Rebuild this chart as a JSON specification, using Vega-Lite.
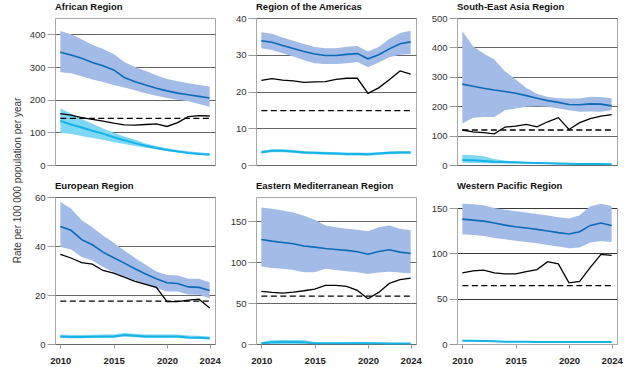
{
"$schema":"https://vega.github.io/schema/vega-lite/v6.json",
"padding":{"left":11,"top":1,"right":5,"bottom":1},
"background":"white",
"data":{"values":[
{"r":"AFR","yr":2010,"m":345,"ml":284,"mh":410,"c":135,"cl":99,"ch":173,"b":157,"t":143},
{"r":"AFR","yr":2011,"m":337,"ml":281,"mh":400,"c":124,"cl":95,"ch":158,"b":153,"t":143},
{"r":"AFR","yr":2012,"m":327,"ml":272,"mh":385,"c":115,"cl":89,"ch":141,"b":145,"t":143},
{"r":"AFR","yr":2013,"m":314,"ml":262,"mh":368,"c":105,"cl":83,"ch":126,"b":140,"t":143},
{"r":"AFR","yr":2014,"m":304,"ml":254,"mh":355,"c":96,"cl":77,"ch":112,"b":134,"t":143},
{"r":"AFR","yr":2015,"m":291,"ml":245,"mh":340,"c":85,"cl":70,"ch":99,"b":128,"t":143},
{"r":"AFR","yr":2016,"m":268,"ml":237,"mh":315,"c":76,"cl":64,"ch":87,"b":123,"t":143},
{"r":"AFR","yr":2017,"m":255,"ml":229,"mh":300,"c":67,"cl":58,"ch":77,"b":122,"t":143},
{"r":"AFR","yr":2018,"m":245,"ml":220,"mh":288,"c":59,"cl":53,"ch":66,"b":124,"t":143},
{"r":"AFR","yr":2019,"m":235,"ml":212,"mh":275,"c":52,"cl":48,"ch":58,"b":126,"t":143},
{"r":"AFR","yr":2020,"m":227,"ml":205,"mh":263,"c":46,"cl":43,"ch":51,"b":118,"t":143},
{"r":"AFR","yr":2021,"m":220,"ml":200,"mh":256,"c":41,"cl":39,"ch":46,"b":130,"t":143},
{"r":"AFR","yr":2022,"m":215,"ml":195,"mh":250,"c":37,"cl":35,"ch":42,"b":148,"t":143},
{"r":"AFR","yr":2023,"m":210,"ml":187,"mh":245,"c":34,"cl":31,"ch":39,"b":151,"t":143},
{"r":"AFR","yr":2024,"m":205,"ml":178,"mh":240,"c":32,"cl":28,"ch":36,"b":150,"t":143},
{"r":"AMR","yr":2010,"m":33.8,"ml":31.8,"mh":36.1,"c":3.5,"cl":3.1,"ch":3.9,"b":23.0,"t":14.8},
{"r":"AMR","yr":2011,"m":33.4,"ml":31.3,"mh":35.7,"c":3.9,"cl":3.5,"ch":4.3,"b":23.5,"t":14.8},
{"r":"AMR","yr":2012,"m":32.5,"ml":30.4,"mh":34.7,"c":3.9,"cl":3.5,"ch":4.3,"b":23.1,"t":14.8},
{"r":"AMR","yr":2013,"m":31.7,"ml":29.5,"mh":33.8,"c":3.7,"cl":3.3,"ch":4.1,"b":22.9,"t":14.8},
{"r":"AMR","yr":2014,"m":30.9,"ml":28.5,"mh":32.9,"c":3.4,"cl":3.0,"ch":3.8,"b":22.5,"t":14.8},
{"r":"AMR","yr":2015,"m":30.2,"ml":27.7,"mh":32.1,"c":3.3,"cl":2.9,"ch":3.7,"b":22.6,"t":14.8},
{"r":"AMR","yr":2016,"m":29.8,"ml":27.5,"mh":31.8,"c":3.2,"cl":2.8,"ch":3.6,"b":22.7,"t":14.8},
{"r":"AMR","yr":2017,"m":29.8,"ml":27.5,"mh":31.8,"c":3.1,"cl":2.7,"ch":3.5,"b":23.3,"t":14.8},
{"r":"AMR","yr":2018,"m":30.1,"ml":27.7,"mh":32.2,"c":3.0,"cl":2.6,"ch":3.4,"b":23.6,"t":14.8},
{"r":"AMR","yr":2019,"m":30.3,"ml":28.0,"mh":32.4,"c":3.0,"cl":2.6,"ch":3.4,"b":23.6,"t":14.8},
{"r":"AMR","yr":2020,"m":28.9,"ml":26.6,"mh":30.9,"c":2.9,"cl":2.5,"ch":3.3,"b":19.5,"t":14.8},
{"r":"AMR","yr":2021,"m":30.0,"ml":27.9,"mh":32.1,"c":3.1,"cl":2.7,"ch":3.5,"b":21.0,"t":14.8},
{"r":"AMR","yr":2022,"m":31.6,"ml":29.3,"mh":34.3,"c":3.3,"cl":2.9,"ch":3.7,"b":23.2,"t":14.8},
{"r":"AMR","yr":2023,"m":33.0,"ml":30.0,"mh":35.9,"c":3.4,"cl":3.0,"ch":3.8,"b":25.6,"t":14.8},
{"r":"AMR","yr":2024,"m":33.5,"ml":30.2,"mh":36.5,"c":3.4,"cl":3.0,"ch":3.8,"b":24.7,"t":14.8},
{"r":"SEAR","yr":2010,"m":275,"ml":141,"mh":455,"c":17,"cl":8,"ch":35,"b":119,"t":119},
{"r":"SEAR","yr":2011,"m":268,"ml":161,"mh":404,"c":16,"cl":7,"ch":33,"b":113,"t":119},
{"r":"SEAR","yr":2012,"m":261,"ml":163,"mh":379,"c":14,"cl":6,"ch":30,"b":110,"t":119},
{"r":"SEAR","yr":2013,"m":255,"ml":163,"mh":359,"c":11,"cl":5,"ch":20,"b":106,"t":119},
{"r":"SEAR","yr":2014,"m":250,"ml":186,"mh":319,"c":10,"cl":5,"ch":15,"b":129,"t":119},
{"r":"SEAR","yr":2015,"m":244,"ml":192,"mh":291,"c":9,"cl":4,"ch":12,"b":132,"t":119},
{"r":"SEAR","yr":2016,"m":236,"ml":198,"mh":262,"c":8,"cl":4,"ch":10,"b":138,"t":119},
{"r":"SEAR","yr":2017,"m":227,"ml":200,"mh":242,"c":7,"cl":3,"ch":9,"b":130,"t":119},
{"r":"SEAR","yr":2018,"m":219,"ml":198,"mh":231,"c":6,"cl":3,"ch":8,"b":147,"t":119},
{"r":"SEAR","yr":2019,"m":213,"ml":192,"mh":227,"c":5,"cl":2,"ch":7,"b":161,"t":119},
{"r":"SEAR","yr":2020,"m":206,"ml":186,"mh":226,"c":4,"cl":2,"ch":5,"b":121,"t":119},
{"r":"SEAR","yr":2021,"m":205,"ml":181,"mh":226,"c":3.5,"cl":2,"ch":4.5,"b":144,"t":119},
{"r":"SEAR","yr":2022,"m":208,"ml":182,"mh":232,"c":3,"cl":1.5,"ch":4,"b":158,"t":119},
{"r":"SEAR","yr":2023,"m":207,"ml":181,"mh":231,"c":3,"cl":1.5,"ch":4,"b":166,"t":119},
{"r":"SEAR","yr":2024,"m":201,"ml":186,"mh":227,"c":2.5,"cl":1,"ch":3.5,"b":171,"t":119},
{"r":"EUR","yr":2010,"m":48.0,"ml":39.6,"mh":58.0,"c":3.1,"cl":2.5,"ch":3.9,"b":36.6,"t":17.5},
{"r":"EUR","yr":2011,"m":46.4,"ml":38.6,"mh":55.3,"c":2.9,"cl":2.3,"ch":3.7,"b":35.1,"t":17.5},
{"r":"EUR","yr":2012,"m":42.6,"ml":35.5,"mh":50.5,"c":2.9,"cl":2.3,"ch":3.7,"b":33.2,"t":17.5},
{"r":"EUR","yr":2013,"m":40.5,"ml":34.1,"mh":47.7,"c":3.0,"cl":2.4,"ch":3.8,"b":32.6,"t":17.5},
{"r":"EUR","yr":2014,"m":37.5,"ml":31.4,"mh":44.3,"c":3.1,"cl":2.5,"ch":3.9,"b":30.0,"t":17.5},
{"r":"EUR","yr":2015,"m":35.2,"ml":29.3,"mh":41.3,"c":3.1,"cl":2.5,"ch":3.9,"b":28.9,"t":17.5},
{"r":"EUR","yr":2016,"m":33.0,"ml":27.7,"mh":38.2,"c":3.7,"cl":3.1,"ch":4.5,"b":27.3,"t":17.5},
{"r":"EUR","yr":2017,"m":30.7,"ml":25.9,"mh":35.1,"c":3.4,"cl":2.8,"ch":4.2,"b":25.6,"t":17.5},
{"r":"EUR","yr":2018,"m":28.6,"ml":24.3,"mh":32.3,"c":3.1,"cl":2.5,"ch":3.9,"b":24.3,"t":17.5},
{"r":"EUR","yr":2019,"m":26.6,"ml":22.8,"mh":29.6,"c":3.1,"cl":2.5,"ch":3.9,"b":23.1,"t":17.5},
{"r":"EUR","yr":2020,"m":25.0,"ml":21.4,"mh":28.2,"c":3.1,"cl":2.5,"ch":3.9,"b":17.3,"t":17.5},
{"r":"EUR","yr":2021,"m":24.7,"ml":21.4,"mh":28.0,"c":3.1,"cl":2.5,"ch":3.9,"b":17.3,"t":17.5},
{"r":"EUR","yr":2022,"m":23.3,"ml":20.2,"mh":26.6,"c":2.7,"cl":2.1,"ch":3.5,"b":17.9,"t":17.5},
{"r":"EUR","yr":2023,"m":23.1,"ml":20.1,"mh":26.6,"c":2.6,"cl":2.0,"ch":3.4,"b":18.3,"t":17.5},
{"r":"EUR","yr":2024,"m":21.8,"ml":18.7,"mh":25.2,"c":2.3,"cl":1.8,"ch":3.1,"b":14.7,"t":17.5},
{"r":"EMR","yr":2010,"m":128,"ml":95,"mh":167,"c":1,"cl":0,"ch":2,"b":64.4,"t":58.7},
{"r":"EMR","yr":2011,"m":126,"ml":93,"mh":165.5,"c":2,"cl":0,"ch":4.5,"b":63.2,"t":58.7},
{"r":"EMR","yr":2012,"m":124.3,"ml":92,"mh":163.5,"c":2.5,"cl":0,"ch":5,"b":62.4,"t":58.7},
{"r":"EMR","yr":2013,"m":122.7,"ml":90.5,"mh":161,"c":2.5,"cl":0,"ch":5,"b":63.6,"t":58.7},
{"r":"EMR","yr":2014,"m":119.9,"ml":88,"mh":157,"c":2,"cl":0,"ch":5,"b":65.2,"t":58.7},
{"r":"EMR","yr":2015,"m":118.6,"ml":88,"mh":152,"c":1,"cl":0,"ch":2,"b":67.3,"t":58.7},
{"r":"EMR","yr":2016,"m":117,"ml":92,"mh":145,"c":0.8,"cl":0,"ch":1.5,"b":71.7,"t":58.7},
{"r":"EMR","yr":2017,"m":115.8,"ml":90.5,"mh":143,"c":0.8,"cl":0,"ch":1.5,"b":71.7,"t":58.7},
{"r":"EMR","yr":2018,"m":114.6,"ml":89,"mh":141,"c":1,"cl":0,"ch":2,"b":70.5,"t":58.7},
{"r":"EMR","yr":2019,"m":112.9,"ml":88,"mh":140,"c":1,"cl":0,"ch":2.5,"b":65.6,"t":58.7},
{"r":"EMR","yr":2020,"m":110,"ml":85.6,"mh":138,"c":1,"cl":0,"ch":2,"b":55.4,"t":58.7},
{"r":"EMR","yr":2021,"m":113.3,"ml":87.6,"mh":143,"c":0.8,"cl":0,"ch":1.5,"b":63.2,"t":58.7},
{"r":"EMR","yr":2022,"m":115.4,"ml":88.5,"mh":145,"c":0.6,"cl":0,"ch":1.2,"b":74.2,"t":58.7},
{"r":"EMR","yr":2023,"m":112.5,"ml":87.6,"mh":141,"c":0.5,"cl":0,"ch":1,"b":78.7,"t":58.7},
{"r":"EMR","yr":2024,"m":110.9,"ml":86.4,"mh":139.4,"c":0.5,"cl":0,"ch":1,"b":80.7,"t":58.7},
{"r":"WPR","yr":2010,"m":137.7,"ml":121,"mh":154.7,"c":3.6,"cl":3.0,"ch":4.2,"b":78.5,"t":64.3},
{"r":"WPR","yr":2011,"m":136.6,"ml":120.2,"mh":154,"c":3.6,"cl":3.0,"ch":4.2,"b":80.6,"t":64.3},
{"r":"WPR","yr":2012,"m":135.5,"ml":119.1,"mh":153,"c":3.3,"cl":2.7,"ch":3.9,"b":81.4,"t":64.3},
{"r":"WPR","yr":2013,"m":133.4,"ml":117,"mh":150,"c":2.9,"cl":2.3,"ch":3.5,"b":78.5,"t":64.3},
{"r":"WPR","yr":2014,"m":131.1,"ml":115.5,"mh":148.2,"c":2.5,"cl":1.9,"ch":3.1,"b":77.4,"t":64.3},
{"r":"WPR","yr":2015,"m":129.3,"ml":114,"mh":146.5,"c":2.5,"cl":1.9,"ch":3.1,"b":77.4,"t":64.3},
{"r":"WPR","yr":2016,"m":127.9,"ml":112.6,"mh":145,"c":2.4,"cl":1.8,"ch":3.0,"b":79.9,"t":64.3},
{"r":"WPR","yr":2017,"m":126.4,"ml":111.2,"mh":143.5,"c":2.3,"cl":1.7,"ch":2.9,"b":82.1,"t":64.3},
{"r":"WPR","yr":2018,"m":124.6,"ml":109.3,"mh":141.7,"c":2.3,"cl":1.7,"ch":2.9,"b":90.8,"t":64.3},
{"r":"WPR","yr":2019,"m":122.8,"ml":107.5,"mh":139.9,"c":2.2,"cl":1.6,"ch":2.8,"b":88.3,"t":64.3},
{"r":"WPR","yr":2020,"m":121.3,"ml":105.7,"mh":138.4,"c":2.2,"cl":1.6,"ch":2.8,"b":67.5,"t":64.3},
{"r":"WPR","yr":2021,"m":123.9,"ml":106.4,"mh":142,"c":2.2,"cl":1.6,"ch":2.8,"b":69.0,"t":64.3},
{"r":"WPR","yr":2022,"m":130.8,"ml":111.9,"mh":151.8,"c":2.2,"cl":1.6,"ch":2.8,"b":84.6,"t":64.3},
{"r":"WPR","yr":2023,"m":133.4,"ml":113.7,"mh":154.7,"c":2.2,"cl":1.6,"ch":2.8,"b":98.8,"t":64.3},
{"r":"WPR","yr":2024,"m":130.8,"ml":112.6,"mh":152.2,"c":2.3,"cl":1.7,"ch":2.9,"b":97.7,"t":64.3}
]},
"config":{
  "font":"Liberation Sans",
  "view":{"stroke":"#a8a8a8","strokeWidth":1},
  "axis":{"labelFont":"Liberation Sans","labelFontSize":9.5,"labelColor":"#333333","tickColor":"#9a9a9a","domainColor":"#a8a8a8","gridColor":"#666666","gridWidth":1,"titleFont":"Liberation Sans","labelOverlap":false},
  "title":{"anchor":"start","frame":"group","font":"Liberation Sans","fontSize":9.5,"fontWeight":"bold","color":"#111111","offset":7},
  "line":{"strokeWidth":1.3}
},
"bounds":"flush",
"columns":3,
"spacing":{"row":32,"column":41},
"concat":[
  {"title":"African Region","width":160,"height":147,
   "transform":[{"filter":"datum.r==='AFR'"}],
   "encoding":{"x":{"field":"yr","type":"quantitative","scale":{"domain":[2009.5,2024.5]},"axis":{"labels":false,"ticks":false,"domain":false,"grid":false,"title":null}}},
   "layer":[
    {"mark":{"type":"area","color":"#a3bbe7","opacity":1},"encoding":{"y":{"field":"ml","type":"quantitative","scale":{"domain":[0,450],"nice":false},"axis":{"values":[0,100,200,300,400],"tickCount":20,"grid":true,"domain":false,"tickSize":8,"labelPadding":2,"title":"Rate per 100 000 population per year","titleX":-38,"titleY":162,"titleAngle":270,"titleAlign":"center","titleBaseline":"middle","titleFontWeight":"normal","titleFontSize":10,"titleColor":"#333333"}},"y2":{"field":"mh"}}},
    {"mark":{"type":"area","color":"#7fd8f3","opacity":1},"encoding":{"y":{"field":"cl","type":"quantitative"},"y2":{"field":"ch"}}},
    {"mark":{"type":"line","color":"#0b6bb6","strokeWidth":1.6},"encoding":{"y":{"field":"m","type":"quantitative"}}},
    {"mark":{"type":"line","color":"#14b3e8","strokeWidth":2},"encoding":{"y":{"field":"c","type":"quantitative"}}},
    {"mark":{"type":"line","color":"#000000"},"encoding":{"y":{"field":"b","type":"quantitative"}}},
    {"mark":{"type":"line","color":"#000000","strokeDash":[6,3.5]},"encoding":{"y":{"field":"t","type":"quantitative"}}}
   ]},
  {"title":{"text":"Region of the Americas","offset":2},"width":160,"height":147,
   "transform":[{"filter":"datum.r==='AMR'"}],
   "encoding":{"x":{"field":"yr","type":"quantitative","scale":{"domain":[2009.5,2024.5]},"axis":{"labels":false,"ticks":false,"domain":false,"grid":false,"title":null}}},
   "layer":[
    {"mark":{"type":"area","color":"#a3bbe7","opacity":1},"encoding":{"y":{"field":"ml","type":"quantitative","title":null,"scale":{"domain":[0,40],"nice":false},"axis":{"values":[0,10,20,30,40],"tickCount":20,"grid":true,"domain":false,"tickSize":8,"labelPadding":2}},"y2":{"field":"mh"}}},
    {"mark":{"type":"area","color":"#7fd8f3","opacity":1},"encoding":{"y":{"field":"cl","type":"quantitative","title":null},"y2":{"field":"ch"}}},
    {"mark":{"type":"line","color":"#0b6bb6","strokeWidth":1.6},"encoding":{"y":{"field":"m","type":"quantitative","title":null}}},
    {"mark":{"type":"line","color":"#14b3e8","strokeWidth":2},"encoding":{"y":{"field":"c","type":"quantitative","title":null}}},
    {"mark":{"type":"line","color":"#000000"},"encoding":{"y":{"field":"b","type":"quantitative","title":null}}},
    {"mark":{"type":"line","color":"#000000","strokeDash":[6,3.5]},"encoding":{"y":{"field":"t","type":"quantitative","title":null}}}
   ]},
  {"title":{"text":"South-East Asia Region","offset":2},"width":160,"height":147,
   "transform":[{"filter":"datum.r==='SEAR'"}],
   "encoding":{"x":{"field":"yr","type":"quantitative","scale":{"domain":[2009.5,2024.5]},"axis":{"labels":false,"ticks":false,"domain":false,"grid":false,"title":null}}},
   "layer":[
    {"mark":{"type":"area","color":"#a3bbe7","opacity":1},"encoding":{"y":{"field":"ml","type":"quantitative","title":null,"scale":{"domain":[0,500],"nice":false},"axis":{"values":[0,100,200,300,400,500],"tickCount":20,"grid":true,"domain":false,"tickSize":8,"labelPadding":2}},"y2":{"field":"mh"}}},
    {"mark":{"type":"area","color":"#7fd8f3","opacity":1},"encoding":{"y":{"field":"cl","type":"quantitative","title":null},"y2":{"field":"ch"}}},
    {"mark":{"type":"line","color":"#0b6bb6","strokeWidth":1.6},"encoding":{"y":{"field":"m","type":"quantitative","title":null}}},
    {"mark":{"type":"line","color":"#14b3e8","strokeWidth":2},"encoding":{"y":{"field":"c","type":"quantitative","title":null}}},
    {"mark":{"type":"line","color":"#000000"},"encoding":{"y":{"field":"b","type":"quantitative","title":null}}},
    {"mark":{"type":"line","color":"#000000","strokeDash":[6,3.5]},"encoding":{"y":{"field":"t","type":"quantitative","title":null}}}
   ]},
  {"title":{"text":"European Region","offset":2},"width":160,"height":147,
   "transform":[{"filter":"datum.r==='EUR'"}],
   "encoding":{"x":{"field":"yr","type":"quantitative","scale":{"domain":[2009.5,2024.5]},"axis":{"values":[2010,2015,2020,2024],"format":"d","labelFontWeight":"bold","labelColor":"#222222","tickSize":4,"labelPadding":7,"domain":false,"grid":false,"title":null}}},
   "layer":[
    {"mark":{"type":"area","color":"#a3bbe7","opacity":1},"encoding":{"y":{"field":"ml","type":"quantitative","title":null,"scale":{"domain":[0,60],"nice":false},"axis":{"values":[0,20,40,60],"tickCount":20,"grid":true,"domain":false,"tickSize":8,"labelPadding":2}},"y2":{"field":"mh"}}},
    {"mark":{"type":"area","color":"#7fd8f3","opacity":1},"encoding":{"y":{"field":"cl","type":"quantitative","title":null},"y2":{"field":"ch"}}},
    {"mark":{"type":"line","color":"#0b6bb6","strokeWidth":1.6},"encoding":{"y":{"field":"m","type":"quantitative","title":null}}},
    {"mark":{"type":"line","color":"#14b3e8","strokeWidth":2},"encoding":{"y":{"field":"c","type":"quantitative","title":null}}},
    {"mark":{"type":"line","color":"#000000"},"encoding":{"y":{"field":"b","type":"quantitative","title":null}}},
    {"mark":{"type":"line","color":"#000000","strokeDash":[6,3.5]},"encoding":{"y":{"field":"t","type":"quantitative","title":null}}}
   ]},
  {"title":"Eastern Mediterranean Region","width":160,"height":147,
   "transform":[{"filter":"datum.r==='EMR'"}],
   "encoding":{"x":{"field":"yr","type":"quantitative","scale":{"domain":[2009.5,2024.5]},"axis":{"values":[2010,2015,2020,2024],"format":"d","labelFontWeight":"bold","labelColor":"#222222","tickSize":4,"labelPadding":7,"domain":false,"grid":false,"title":null}}},
   "layer":[
    {"mark":{"type":"area","color":"#a3bbe7","opacity":1},"encoding":{"y":{"field":"ml","type":"quantitative","title":null,"scale":{"domain":[0,180],"nice":false},"axis":{"values":[0,50,100,150],"tickCount":20,"grid":true,"domain":false,"tickSize":8,"labelPadding":2}},"y2":{"field":"mh"}}},
    {"mark":{"type":"area","color":"#7fd8f3","opacity":1},"encoding":{"y":{"field":"cl","type":"quantitative","title":null},"y2":{"field":"ch"}}},
    {"mark":{"type":"line","color":"#0b6bb6","strokeWidth":1.6},"encoding":{"y":{"field":"m","type":"quantitative","title":null}}},
    {"mark":{"type":"line","color":"#14b3e8","strokeWidth":2},"encoding":{"y":{"field":"c","type":"quantitative","title":null}}},
    {"mark":{"type":"line","color":"#000000"},"encoding":{"y":{"field":"b","type":"quantitative","title":null}}},
    {"mark":{"type":"line","color":"#000000","strokeDash":[6,3.5]},"encoding":{"y":{"field":"t","type":"quantitative","title":null}}}
   ]},
  {"title":"Western Pacific Region","width":160,"height":147,"view":{"stroke":null},
   "transform":[{"filter":"datum.r==='WPR'"}],
   "encoding":{"x":{"field":"yr","type":"quantitative","scale":{"domain":[2009.5,2024.5]},"axis":{"values":[2010,2015,2020,2024],"format":"d","labelFontWeight":"bold","labelColor":"#222222","tickSize":4,"labelPadding":7,"domain":true,"grid":false,"title":null}}},
   "resolve":{"axis":{"y":"independent"}},
   "layer":[
    {"mark":{"type":"area","color":"#a3bbe7","opacity":1},"encoding":{"y":{"field":"ml","type":"quantitative","title":null,"scale":{"domain":[0,150],"nice":false,"range":[147,11]},"axis":{"values":[0,50,100,150],"tickCount":20,"grid":true,"domain":true,"tickSize":8,"labelPadding":2,"gridColor":{"condition":{"test":"datum.value === 0","value":"#a8a8a8"},"value":"#3a3a3a"}}},"y2":{"field":"mh"}}},
    {"mark":{"type":"area","color":"#7fd8f3","opacity":1},"encoding":{"y":{"field":"cl","type":"quantitative","title":null,"axis":{"orient":"right","labels":false,"ticks":false,"grid":false,"domain":true}},"y2":{"field":"ch"}}},
    {"mark":{"type":"line","color":"#0b6bb6","strokeWidth":1.6},"encoding":{"y":{"field":"m","type":"quantitative","axis":null}}},
    {"mark":{"type":"line","color":"#14b3e8","strokeWidth":2},"encoding":{"y":{"field":"c","type":"quantitative","axis":null}}},
    {"mark":{"type":"line","color":"#000000"},"encoding":{"y":{"field":"b","type":"quantitative","axis":null}}},
    {"mark":{"type":"line","color":"#000000","strokeDash":[6,3.5]},"encoding":{"y":{"field":"t","type":"quantitative","axis":null}}}
   ]}
]
}
